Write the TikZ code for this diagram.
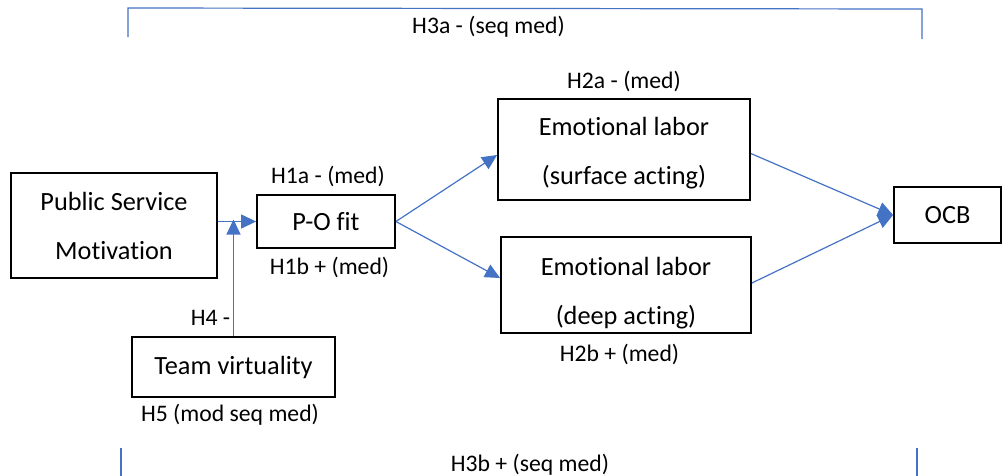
\documentclass[tikz,border=0pt]{standalone}
\usepackage{fontspec}
\setmainfont{Carlito}[Ligatures=NoCommon]
\usetikzlibrary{arrows.meta}
\definecolor{lineblue}{HTML}{4472C4}
\newcommand\toppad[1]{\rule{0pt}{#1}}
\begin{document}
\begin{tikzpicture}[x=1pt,y=-1pt,
  box/.style={draw=black,line width=1.8pt,inner sep=0pt,align=center,font=\fontsize{26.3}{49}\selectfont},
  lbl/.style={inner sep=0pt,anchor=base,font=\fontsize{23.7}{28}\selectfont},
  conn/.style={draw=lineblue,line width=1.2pt},
  arr/.style={conn,-{Triangle[length=15pt,width=14pt]}}]
\useasboundingbox (0,0) rectangle (1002,475);
% boxes
\node[box,minimum width=206pt,minimum height=105pt] (psm) at (114,225.5) {Public Service\\Motivation};
\node[box,minimum width=138pt,minimum height=53pt] (po) at (326,221.5) {P-O fit};
\node[box,minimum width=203pt,minimum height=60pt] (tv) at (233.5,367) {Team virtuality};
\node[box,minimum width=252pt,minimum height=101pt] (sa) at (624,149.5) {\toppad{26pt}Emotional labor\\(surface acting)};
\node[box,minimum width=250pt,minimum height=96pt] (da) at (626,285) {\toppad{35pt}Emotional labor\\(deep acting)};
\node[box,minimum width=107pt,minimum height=56pt] (ocb) at (947.5,215) {OCB};
% labels
\node[lbl] (h3a) at (488.5,33) {H3a - (seq med)};
\node[lbl] (h2a) at (624,88) {H2a - (med)};
\node[lbl] (h1a) at (328,183) {H1a - (med)};
\node[lbl] (h1b) at (329.5,274) {H1b + (med)};
\node[lbl] (h4) at (210.5,325) {H4 -};
\node[lbl] (h5) at (230,421.7) {H5 (mod seq med)};
\node[lbl] (h2b) at (619.5,361) {H2b + (med)};
\node[lbl] (h3b) at (530,471) {H3b + (seq med)};
% connectors
\draw[arr] (psm.east |- po.west) -- (po.west);
\draw[arr] (tv.north) -- ([yshift=2pt]tv.north |- po.west);
\draw[arr] (po.east) -- ([yshift=-5.5pt]sa.west);
\draw[arr] (po.east) -- ([yshift=7pt]da.west);
\draw[arr] ([yshift=-4pt]sa.east) -- (ocb.west);
\draw[arr] ([yshift=2pt]da.east) -- (ocb.west);
% brackets
\coordinate (ta1) at (128,37);
\coordinate (ta2) at (128,8);
\coordinate (ta3) at (922,9);
\coordinate (ta4) at (922,39);
\draw[conn] (ta1) -- (ta2) -- (ta3) -- (ta4);
\coordinate (bl1) at (121,448);
\coordinate (bl2) at (121,476);
\coordinate (br1) at (917,448);
\coordinate (br2) at (917,476);
\draw[conn] (bl1) -- (bl2);
\draw[conn] (br1) -- (br2);
\end{tikzpicture}
\end{document}
